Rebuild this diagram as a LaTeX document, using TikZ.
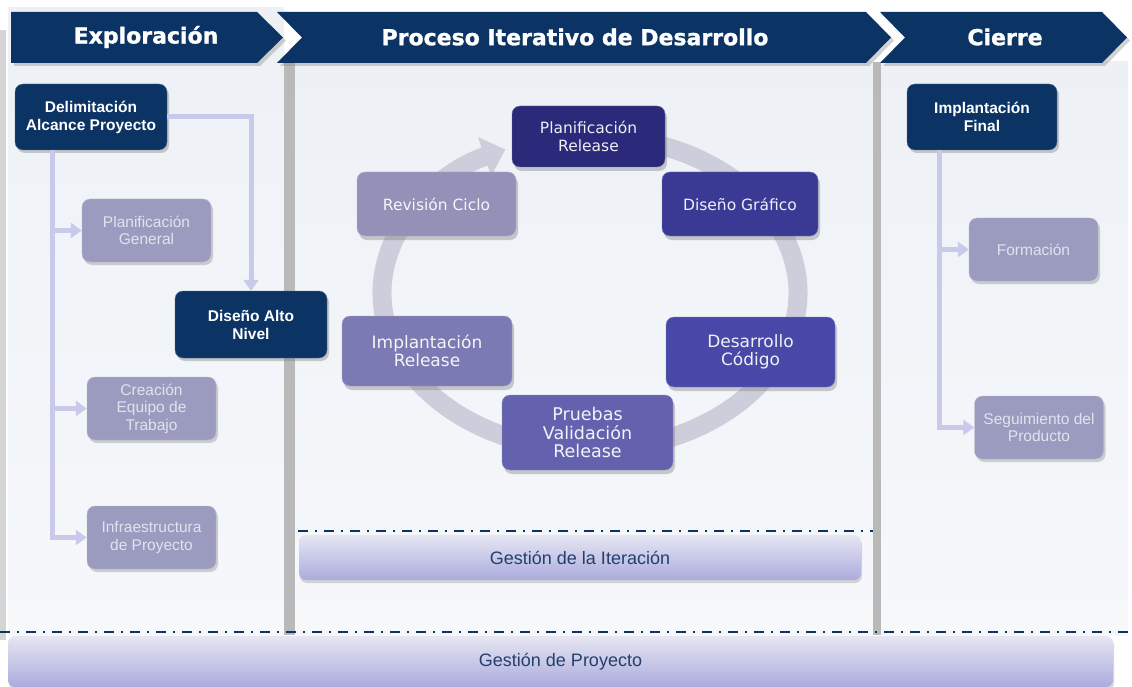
\documentclass[tikz,border=0pt]{standalone}
\usepackage{fontspec}
\setmainfont{Liberation Sans}
\newfontfamily\headfont{DejaVu Sans}[BoldFeatures={FakeBold=1.2}]
\newfontfamily\cyclefont{DejaVu Sans}
\usetikzlibrary{arrows.meta,shadows}
\definecolor{navy}{HTML}{0B3465}
\definecolor{panel}{HTML}{EDF1F6}
\definecolor{bargray}{HTML}{B9B9B9}
\definecolor{lilac}{HTML}{9B9BC0}
\definecolor{lilactext}{HTML}{E2E2EE}
\definecolor{linkcol}{HTML}{C9C9EC}
\definecolor{ringcol}{HTML}{CDCDDB}
\definecolor{gestext}{HTML}{243F6E}
\definecolor{gestop}{HTML}{E6E6F3}
\definecolor{gesbot}{HTML}{ABABDD}
\definecolor{cplan}{HTML}{2B2A7A}
\definecolor{cdis}{HTML}{3A3A95}
\definecolor{cdes}{HTML}{4848A8}
\definecolor{cpru}{HTML}{6462AE}
\definecolor{cimp}{HTML}{7C7AB2}
\definecolor{crev}{HTML}{9391B8}
\begin{document}
\begin{tikzpicture}[x=1pt, y=-1pt,
	header/.style={fill=navy, drop shadow={shadow xshift=3pt, shadow yshift=-3pt, opacity=0.35}},
	headtext/.style={text=white, font=\fontsize{22}{24}\headfont\bfseries},
	darkbox/.style={fill=navy, draw=navy!70!white, rounded corners=8pt, align=center, text=white,
		font=\fontsize{15.5}{18}\selectfont\bfseries, drop shadow={shadow xshift=2pt, shadow yshift=-3pt, opacity=0.4}},
	lightbox/.style={fill=lilac, draw=lilac!70!white, rounded corners=8pt, align=center, text=lilactext,
		minimum width=129, minimum height=63, font=\fontsize{15.5}{17.5}\selectfont,
		drop shadow={shadow xshift=2pt, shadow yshift=-3pt, opacity=0.35}},
	cyclebox/.style={draw=#1!70!white, fill=#1, rounded corners=8pt, align=center, text=white!92!#1,
		font=\fontsize{15.5}{18}\cyclefont, drop shadow={shadow xshift=2pt, shadow yshift=-4pt, opacity=0.4}},
	link/.style={draw=linkcol, line width=5pt, -{Triangle[width=15pt,length=11pt]}},
	gestbar/.style={rounded corners=7pt, top color=gestop, bottom color=gesbot,
		text=gestext, font=\fontsize{18}{20}\selectfont,
		drop shadow={shadow xshift=1pt, shadow yshift=-3pt, opacity=0.3}},
	dashdot/.style={draw=navy, line width=2pt, dash pattern=on 10pt off 7pt on 2pt off 7pt}]

	\useasboundingbox (0,0) rectangle (1132,687);
	\fill[white] (0,0) rectangle (1132,687);

	% the three columns
	\fill[bargray!60!white] (0,30) rectangle (6,640);
	\shade[top color=panel, bottom color=panel!50!white] (8,8) rectangle (284,635);
	\shade[top color=panel, bottom color=panel!50!white] (295,62) rectangle (873,635);
	\shade[top color=panel, bottom color=panel!50!white] (881,62) rectangle (1128,635);
	\fill[bargray] (284,62) rectangle (295,635);
	\fill[bargray] (873,62) rectangle (881,635);

	% chevrons on top
	\fill[header] (11,12) -- (257,12) -- (283,37.5) -- (257,63) -- (11,63) -- cycle;
	\fill[header] (277,12) -- (866,12) -- (891,37.5) -- (866,63) -- (277,63) -- (302,37.5) -- cycle;
	\fill[header] (880,12) -- (1102,12) -- (1127,37.5) -- (1102,63) -- (880,63) -- (905,37.5) -- cycle;
	\node[headtext] (hexpl) at (146,37) {Exploración};
	\node[headtext] (hproc) at (575,37) {Proceso Iterativo de Desarrollo};
	\node[headtext] (hcier) at (1005,37) {Cierre};

	\draw[dashdot] (298,531) -- (873,531);
	\draw[dashdot] (0,632) -- (1132,632);
	\node[gestbar, minimum width=562, minimum height=45] (giter) at (580,557.5) {Gestión de la Iteración};
	\node[gestbar, minimum width=1105, minimum height=51] (gproy) at (560.5,661.5) {Gestión de Proyecto};

	% ring round the cycle
	\coordinate (ring) at (590,293);
	\draw[ringcol, line width=19pt, -{Triangle[width=40pt,length=22pt]}] ([shift={(-80:208 and 157)}]ring)
		arc[start angle=-80, end angle=246, x radius=208, y radius=157];

	% exploracion
	\node[darkbox, minimum width=152, minimum height=66] (delim) at (91,117) {Delimitación\\Alcance Proyecto};
	\node[lightbox] (plangen) at (146.5,230.5) {Planificación\\General};
	\node[darkbox, minimum width=152, minimum height=67] (disalto) at (251,324.5) {Diseño Alto\\Nivel};
	\node[lightbox] (creacion) at (151.5,408.5) {Creación\\Equipo de\\Trabajo};
	\node[lightbox] (infra) at (151.5,537.5) {Infraestructura\\de Proyecto};
	\draw[link] ([xshift=38]delim.south west) |- (plangen);
	\draw[link] ([xshift=38]delim.south west) |- (creacion);
	\draw[link] ([xshift=38]delim.south west) |- (infra);
	\draw[link] (delim.east) -| (disalto);

	% iteracion
	\node[cyclebox=cplan, minimum width=153, minimum height=61] (planrel) at (588.5,136.5) {Planificación\\Release};
	\node[cyclebox=cdis, minimum width=156, minimum height=64] (disgraf) at (740,204) {Diseño Gráfico};
	\node[cyclebox=cdes, minimum width=169, minimum height=70, font=\fontsize{17}{18}\cyclefont] (desarr) at (750.5,352) {Desarrollo\\Código};
	\node[cyclebox=cpru, minimum width=171, minimum height=75, font=\fontsize{17.5}{18.5}\cyclefont] (pruebas) at (587.5,432.5) {Pruebas\\Validación\\Release};
	\node[cyclebox=cimp, minimum width=170, minimum height=70, font=\fontsize{17}{18}\cyclefont] (implrel) at (427,351) {Implantación\\Release};
	\node[cyclebox=crev, minimum width=159, minimum height=64] (revision) at (436.5,204) {Revisión Ciclo};

	% cierre
	\node[darkbox, minimum width=150, minimum height=66] (implfin) at (982,117) {Implantación\\Final};
	\node[lightbox] (formacion) at (1033.5,249.5) {Formación};
	\node[lightbox] (seguim) at (1039,427.5) {Seguimiento del\\Producto};
	\draw[link] ([xshift=33]implfin.south west) |- (formacion);
	\draw[link] ([xshift=33]implfin.south west) |- (seguim);
\end{tikzpicture}
\end{document}
